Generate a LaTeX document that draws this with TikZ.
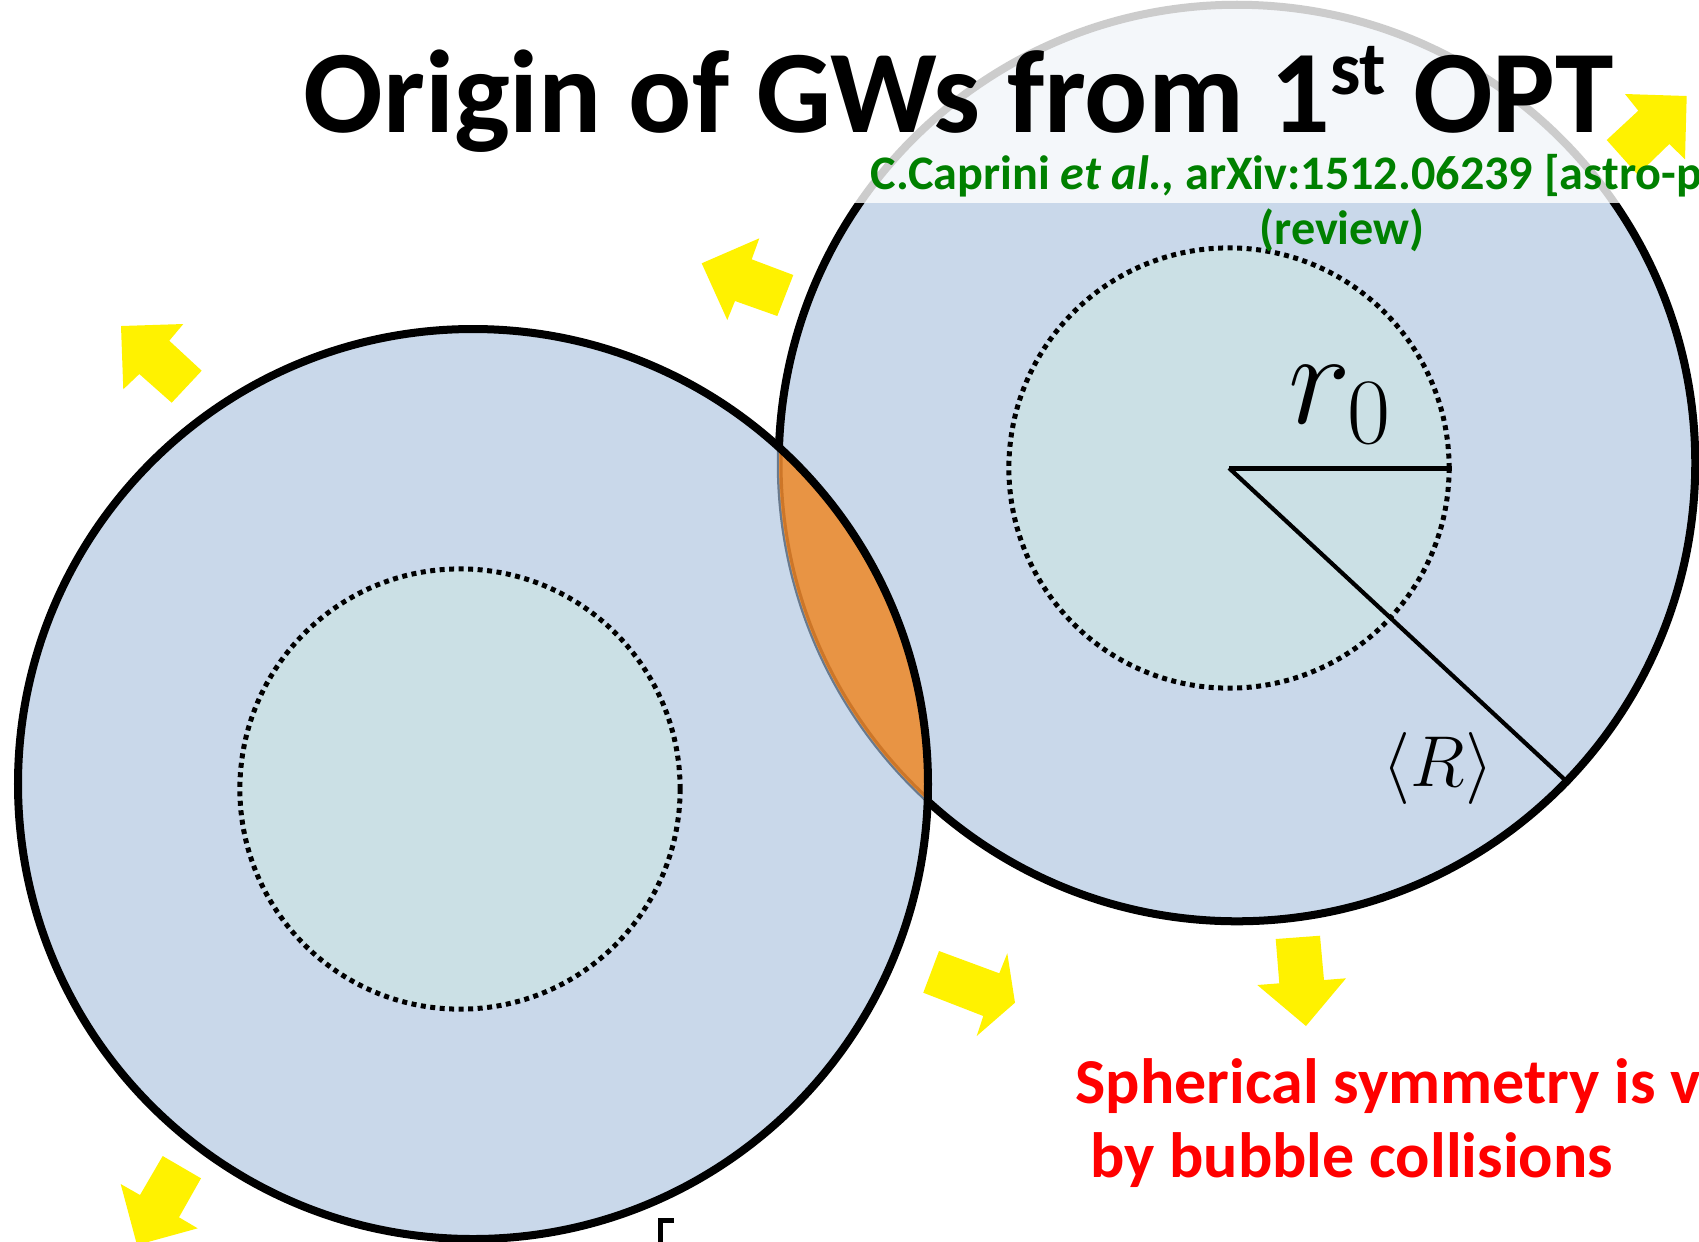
\RequirePackage{fix-cm}
\documentclass[tikz,border=0pt]{standalone}
\usepackage{fontspec}
\newfontfamily\carlito{Carlito}
\usetikzlibrary{positioning}
\definecolor{bubblefill}{RGB}{201,216,234}
\definecolor{corefill}{RGB}{203,224,229}
\definecolor{lensfill}{RGB}{232,148,68}
\definecolor{lensrim}{RGB}{205,118,40}
\definecolor{lensshade}{RGB}{105,122,142}
\definecolor{citegreen}{RGB}{0,128,0}

\begin{document}
\begin{tikzpicture}[x=0.01cm, y=-0.01cm,
  bubble/.style = {circle, draw, line width=0.08cm, fill=bubblefill, inner sep=0pt, minimum size=9.16cm},
  core/.style = {circle, draw, line width=0.05cm, dash pattern=on 0.05cm off 0.045cm, fill=corefill, inner sep=0pt, minimum size=4.4cm},
  wave/.style = {fill=yellow},
  headline/.style = {inner sep=0pt, font=\carlito\bfseries\fontsize{33.5}{33.5}\selectfont},
  cite/.style = {inner sep=0pt, text=citegreen, font=\carlito\bfseries\fontsize{13.7}{13.7}\selectfont},
  claim/.style = {inner sep=0pt, text=red, font=\carlito\bfseries\fontsize{18.2}{18.2}\selectfont}]
\useasboundingbox (0,0) rectangle (1699,1241);
\node[bubble] (2) at (1237,463) {};
\node[bubble, draw=none, minimum size=9.1cm] (1) at (473,784) {};
\begin{scope}
  \clip (1.center) circle[radius=455];
  \draw[lensshade, line width=0.045cm] (2.center) circle[radius=458];
  \fill[lensfill] (2.center) circle[radius=458];
  \draw[lensrim, line width=0.03cm] (2.center) circle[radius=456];
\end{scope}
\draw[line width=0.08cm] (1.center) circle[radius=455];
\node[core] (3) at (460,789) {};
\node[core] (4) at (1229,468) {};
\draw[line width=0.05cm] (4.center) -- (4.east);
\draw[line width=0.042cm] (4.center) -- (2.-44);
\node[anchor=base, inner sep=0pt, font=\fontsize{38}{38}\selectfont] (r0) at (1340,423) {$r_0$};
\node[anchor=base, inner sep=0pt, font=\fontsize{20.5}{20.5}\selectfont] (R) at (1438,786) {$\langle R\rangle$};
\fill[white, opacity=0.8] (0,0) rectangle (1699,203);
\fill[wave] (121,326) -- (183.3,324) -- (169.3,340.7) -- (201.7,370.7) -- (171.7,402.7) -- (139.3,374) -- (123.3,389.3) -- cycle;
\fill[wave] (162.7,1156) -- (201,1178.3) -- (179,1217.3) -- (197.7,1228.3) -- (137,1245) -- (120.7,1184) -- (140,1195) -- cycle;
\fill[wave] (701.7,263.3) -- (759.3,238.3) -- (751.7,259.3) -- (793.3,275) -- (777.3,316) -- (735,301) -- (727.3,320) -- cycle;
\fill[wave] (1686.7,96) -- (1685,159.3) -- (1669.3,144) -- (1637.7,174.7) -- (1606.7,140) -- (1638.3,110.7) -- (1625,94) -- cycle;
\fill[wave] (939,951) -- (999.3,973.3) -- (1007.3,953.3) -- (1015,1002.7) -- (976.7,1036) -- (983.3,1016) -- (923.3,992.7) -- cycle;
\fill[wave] (1275.7,939) -- (1320,935.7) -- (1324,980) -- (1346,978.3) -- (1306,1026) -- (1257.3,985) -- (1279.3,983.3) -- cycle;
\node[headline, anchor=base west] (title) at (303,132) {Origin of GWs from 1\raisebox{10.6pt}{\fontsize{21.7}{21.7}\selectfont st} OPT};
\node[cite, anchor=base west] (ref) at (870,189) {C.Caprini \textit{et al.}, arXiv:1512.06239 [astro-ph]};
\node[cite, anchor=base] (review) at (1342,244) {(review)};
\node[claim, anchor=base west] (claim1) at (1075,1103) {Spherical symmetry is violated};
\node[claim, anchor=base west] (claim2) at (1090,1177) {by bubble collisions};
\draw[line width=0.05cm] (674,1220) -- (660,1220) -- (660,1250);
\end{tikzpicture}
\end{document}
